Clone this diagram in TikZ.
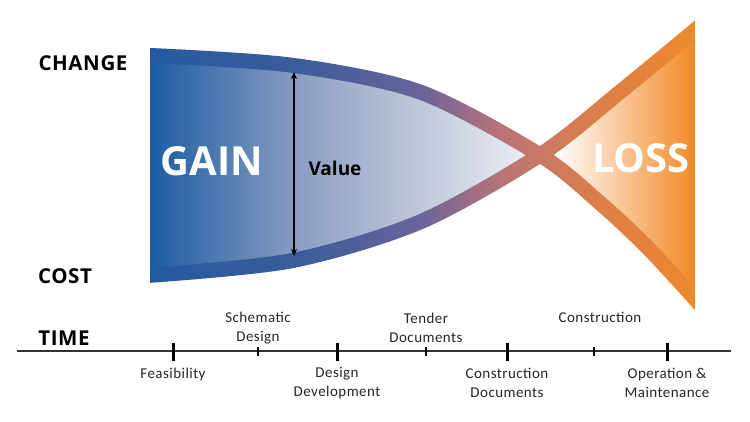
\documentclass[tikz,border=0pt]{standalone}
\usepackage{fontspec}
\usetikzlibrary{arrows.meta}
\newfontfamily\boldsans{Open Sans}
\newfontfamily\axisfont[LetterSpace=3]{Open Sans}
\newfontfamily\lab[LetterSpace=3]{Carlito}
\definecolor{gainblue}{RGB}{28,92,162}
\definecolor{gainmid}{RGB}{140,158,194}
\definecolor{gainend}{RGB}{243,243,245}
\definecolor{lossor}{RGB}{242,137,38}
\definecolor{Bz}{RGB}{35,90,160}
\definecolor{Ba}{RGB}{60,92,155}
\definecolor{Bb}{RGB}{105,100,155}
\definecolor{Bc}{RGB}{185,115,120}
\definecolor{Bd}{RGB}{215,125,80}
\definecolor{Be}{RGB}{228,130,60}
\definecolor{Bf}{RGB}{240,137,45}
\def\topc{(140,55) (290,65) (420,92) (540,155) (600,203) (650,250) (705,310)}
\def\botc{(140,276) (290,261) (420,222) (540,155) (620,92) (705,22)}
\tikzset{
  axislab/.style={font=\axisfont\bfseries\fontsize{20.5}{24}\selectfont, text=black},
  biglab/.style={font=\boldsans\bfseries\fontsize{40}{48}\selectfont, text=white},
  phase/.style={font=\lab\fontsize{15}{19}\selectfont, align=center, text=black!85},
  major/.style={line width=3pt, black},
  minor/.style={line width=2.5pt, black},
}
\begin{document}
\begin{tikzpicture}[x=1pt,y=-1pt]
\useasboundingbox (0,0) rectangle (750,422);
\fill[white] (0,0) rectangle (750,422);
% GAIN fill
\begin{scope}
  \clip plot[smooth] coordinates {\topc} -- (705,430) -- (140,430) -- cycle;
  \clip plot[smooth] coordinates {\botc} -- (705,-10) -- (140,-10) -- cycle;
  \shade[left color=gainblue, right color=gainmid] (150,0) rectangle (300.5,422);
  \shade[left color=gainmid, right color=gainend] (300,0) rectangle (545,422);
\end{scope}
% LOSS fill
\begin{scope}
  \clip plot[smooth] coordinates {\topc} -- (705,-10) -- (140,-10) -- cycle;
  \clip plot[smooth] coordinates {\botc} -- (705,430) -- (140,430) -- cycle;
  \shade[left color=white, right color=lossor] (555,0) rectangle (695,422);
  \fill[white] (530,0) rectangle (555.5,422);
\end{scope}
% bands, drawn in thin vertical strips to follow a horizontal colour gradient
\foreach \xa/\xb/\ca/\cb in {150/300/Bz/Ba, 300/420/Ba/Bb, 420/500/Bb/Bc, 500/580/Bc/Bd, 580/640/Bd/Be, 640/695/Be/Bf}{
  \pgfmathtruncatemacro\N{(\xb-\xa)/5-1}
  \foreach \k in {0,...,\N}{
    \pgfmathsetmacro\xx{\xa+\k*5}
    \pgfmathtruncatemacro\pp{(\k*5+2.5)*100/(\xb-\xa)}
    \colorlet{bc}{\cb!\pp!\ca}
    \begin{scope}
      \clip (\xx-0.4,0) rectangle (\xx+5.4,422);
      \draw[line width=15pt, bc] plot[smooth] coordinates {\botc};
      \draw[line width=15pt, bc] plot[smooth] coordinates {\topc};
    \end{scope}
  }
}
% white masks outside the band ends
\fill[white] (100,0) rectangle (150,422);
\fill[white] (695,0) rectangle (750,330);
% labels
\node[axislab] (change) at (83,63) {CHANGE};
\node[axislab] (cost) at (65,276) {COST};
\node[axislab] (time) at (64,338) {TIME};
\node[biglab] (gain) at (212,161) {GAIN};
\node[biglab] (loss) at (641,158) {LOSS};
\node[font=\boldsans\bfseries\fontsize{19}{22}\selectfont] (value) at (335,168) {Value};
\coordinate (vtop) at (294,72);
\coordinate (vbot) at (294,256);
\draw[line width=1.6pt, {Stealth[length=7pt,width=6pt]}-{Stealth[length=7pt,width=6pt]}] (vtop) -- (vbot);
% timeline
\coordinate (tl) at (17,351);
\coordinate (tr) at (731,351);
\draw[line width=1.3pt, black!80] (tl) -- (tr);
\foreach \n/\x in {feas/173, dd/337, cd/507, om/667}{
  \coordinate (\n t) at (\x,343);
  \coordinate (\n b) at (\x,361);
  \draw[major] (\n t) -- (\n b);
}
\foreach \n/\x in {sd/258, td/426, co/594}{
  \coordinate (\n t) at (\x,346.5);
  \coordinate (\n b) at (\x,355.5);
  \draw[minor] (\n t) -- (\n b);
}
\node[phase] (lfeas) at (173,374) {Feasibility};
\node[phase] (lsd) at (258,328) {Schematic\\Design};
\node[phase] (ldd) at (337,383) {Design\\Development};
\node[phase] (ltd) at (426,327.5) {Tender\\Documents};
\node[phase] (lcd) at (507,383) {Construction\\Documents};
\node[phase] (lco) at (600,317) {Construction};
\node[phase] (lom) at (667,383) {Operation \&\\Maintenance};
\end{tikzpicture}
\end{document}
